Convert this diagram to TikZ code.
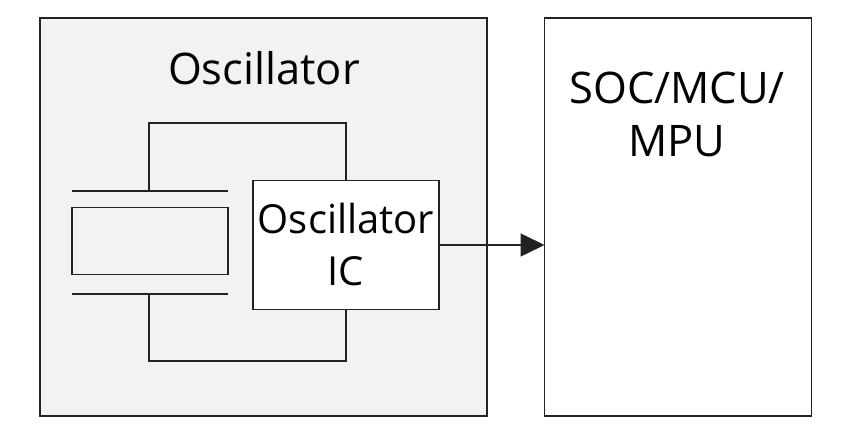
\documentclass[tikz,border=0pt]{standalone}
\usepackage{fontspec}
\setmainfont{Open Sans}
\usepackage{tikz}
\usetikzlibrary{arrows.meta}
\definecolor{boxfill}{HTML}{F2F2F2}
\definecolor{linecol}{HTML}{222222}

\begin{document}
\begin{tikzpicture}[x=1pt, y=-1pt, line width=1.5pt, draw=linecol,
  box/.style={draw=linecol, rectangle, inner sep=0pt, outer sep=0pt},
  txt/.style={font=\fontsize{40}{52}\selectfont, align=center, inner sep=0pt},
  bigtxt/.style={font=\fontsize{43.5}{53}\selectfont, align=center, inner sep=0pt}]
  \useasboundingbox (0,0) rectangle (862,446);
  \node[box, fill=boxfill, minimum width=447pt, minimum height=398pt] (osc) at (263.5,217) {};
  \node[box, fill=white, minimum width=267pt, minimum height=398pt] (soc) at (678,217) {};
  \node[bigtxt] (osctitle) at (264,68) {Oscillator};
  \node[bigtxt] (soctext) at (677,114) {SOC/MCU/\\MPU};
  \node[box, fill=white, minimum width=186pt, minimum height=129pt, txt] (ic) at (346,245) {Oscillator\\IC};
  \node[box, minimum width=156pt, minimum height=67pt] (xtal) at (150,241) {};
  \coordinate (ptop) at (149,191);
  \coordinate (pbot) at (149,294);
  \draw[linecol] (72,191) -- (228,191) (72,294) -- (228,294);
  \draw[linecol] (ptop) -- ++(0,-68) -| (ic.north);
  \draw[linecol] (pbot) -- ++(0,67) -| (ic.south);
  \draw[linecol, -{Triangle[length=24pt, width=23pt]}] (ic.east) -- (soc.west |- ic.east);
\end{tikzpicture}
\end{document}
